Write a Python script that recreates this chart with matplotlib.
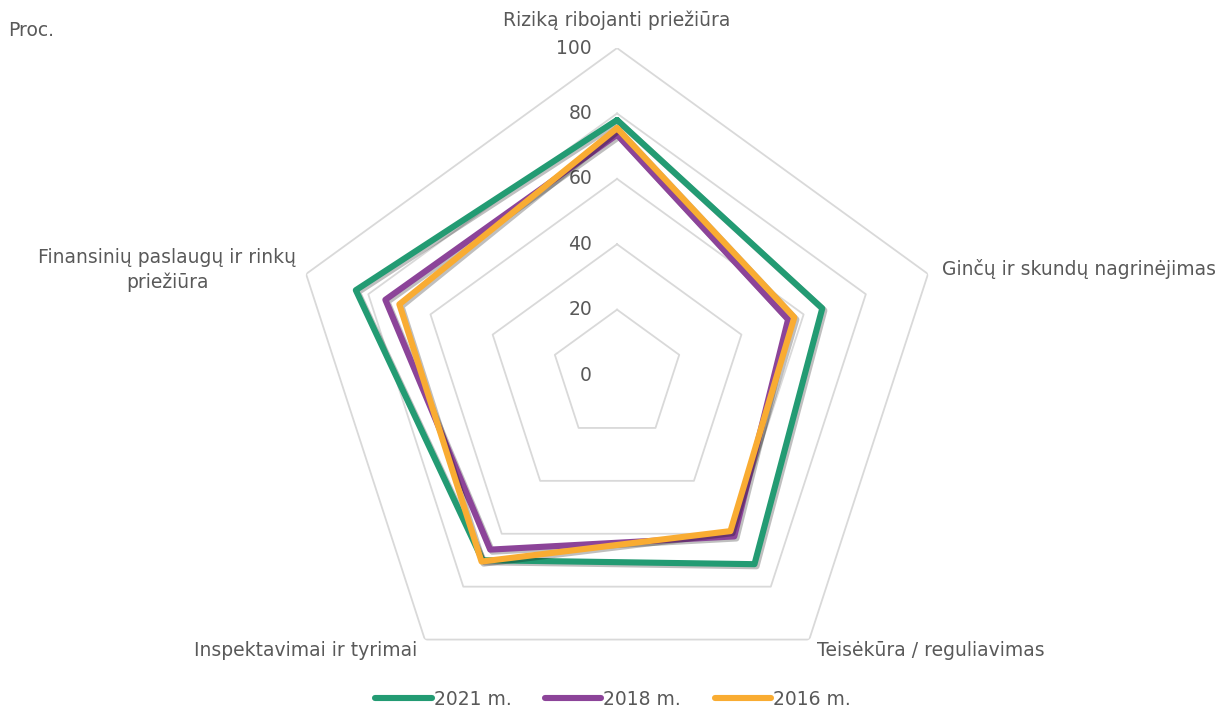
import numpy as np
import matplotlib
matplotlib.use("Agg")
import matplotlib.pyplot as plt
import matplotlib.patheffects as pe
from matplotlib.transforms import offset_copy

categories = ["Riziką ribojanti priežiūra", "Ginčų ir skundų nagrinėjimas",
              "Teisėkūra / reguliavimas", "Inspektavimai ir tyrimai",
              "Finansinių paslaugų ir rinkų\npriežiūra"]
series_names = ["2021 m.", "2018 m.", "2016 m."]
v2021 = [78, 66, 71.5, 70, 84]
v2018 = [73.5, 55, 61, 66, 74.5]
v2016 = [75.5, 57, 59, 70.5, 70]
ticks = [0, 20, 40, 60, 80, 100]
colors = ["#239B73", "#8C4499", "#F9AC32"]

text_color = "#595959"
grid_color = "#D9D9D9"
plt.rcParams['font.family'] = ['DejaVu Sans']
fs = 13.5

fig = plt.figure(figsize=(12.26, 7.13), dpi=100)
ax = fig.add_axes([0.2366, 0.0154, 0.5334, 0.9172], projection='polar')
ax.set_theta_offset(np.pi / 2)
ax.set_theta_direction(-1)
ax.set_ylim(0, 100)
ax.grid(False)
ax.spines['polar'].set_visible(False)
ax.set_xticks([])
ax.set_yticks([])
ax.patch.set_alpha(0)

n = len(categories)
theta = np.linspace(0, 2 * np.pi, n, endpoint=False)
theta_c = np.append(theta, theta[0])

for t in ticks[1:]:
    ax.plot(theta_c, [t] * (n + 1), color=grid_color, lw=1.3, zorder=1)

for t in ticks:
    tr = offset_copy(ax.transData, fig=fig, x=-25, y=0, units='dots')
    ax.text(0, t, str(t), transform=tr, ha='right', va='center',
            fontsize=fs, color=text_color)

for vals, c, name in zip([v2021, v2018, v2016], colors, series_names):
    vc = list(vals) + [vals[0]]
    ax.plot(theta_c, vc, color=c, lw=4.4, solid_joinstyle='round',
            solid_capstyle='round', label=name, zorder=3,
            path_effects=[pe.SimpleLineShadow(offset=(1.5, -1.5), shadow_color='black', alpha=0.25),
                          pe.Normal()])

label_cfg = [
    (0, 0, 28, 'center', 'center'),
    (1, 14, 5, 'left', 'center'),
    (2, 8, -11, 'left', 'center'),
    (3, -8, -11, 'right', 'center'),
    (4, -10, 4, 'right', 'center'),
]
for i, dx, dy, ha, va in label_cfg:
    tr = offset_copy(ax.transData, fig=fig, x=dx, y=dy, units='dots')
    ax.text(theta[i], 100, categories[i], transform=tr, ha=ha, va=va,
            fontsize=fs, color=text_color, multialignment='center', linespacing=1.3)

fig.text(8 / 1226, 1 - 30 / 713, "Proc.", ha='left', va='center', fontsize=fs, color=text_color)

leg = fig.legend(loc='lower center', ncol=3, frameon=False, fontsize=fs,
                 bbox_to_anchor=(0.5, -0.018), handlelength=3.0, handletextpad=0.1,
                 columnspacing=1.8)
for h in leg.get_lines():
    h.set_path_effects([])
    h.set_linewidth(4.4)
    h.set_solid_capstyle('round')
for t in leg.get_texts():
    t.set_color(text_color)

fig.savefig("out.png", dpi=100)
